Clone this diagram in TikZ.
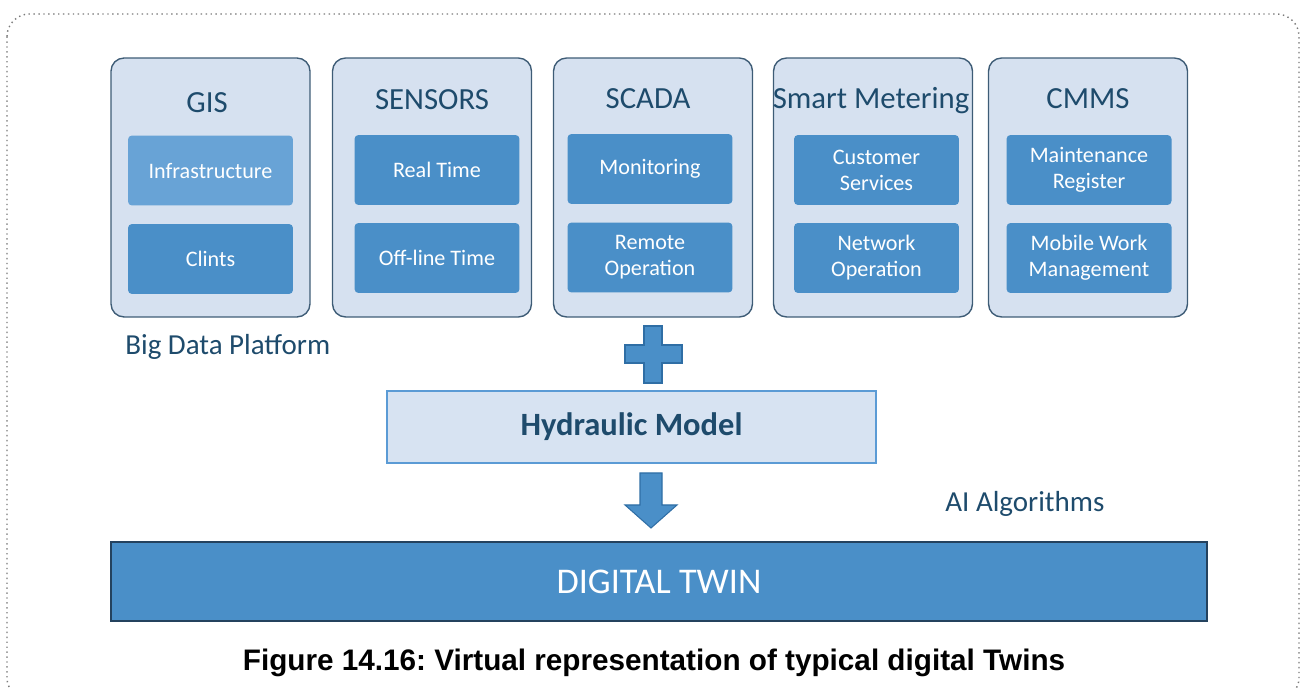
\documentclass[tikz,border=0pt]{standalone}
\usepackage{fontspec}
\setmainfont{Carlito}
\newfontfamily\capfont{Liberation Sans}
\frenchspacing
\definecolor{panelfill}{HTML}{D6E1F0}
\definecolor{panelline}{HTML}{3E5C76}
\definecolor{itemfill}{HTML}{4A8FC8}
\definecolor{itemlight}{HTML}{68A3D6}
\definecolor{headtext}{HTML}{1E4B6C}
\definecolor{hydfill}{HTML}{D7E3F2}
\definecolor{hydline}{HTML}{5B9BD5}
\definecolor{twinline}{HTML}{24425E}
\definecolor{blockline}{HTML}{2F6EA5}
\definecolor{framegray}{HTML}{7A7A7A}

\begin{document}
\begin{tikzpicture}[
		x=0.02cm, y=-0.02cm,
		panel/.style={rectangle, rounded corners=0.26cm, draw=panelline, line width=0.8pt, fill=panelfill, minimum width=3.98cm, minimum height=5.18cm},
		head/.style={anchor=base, text=headtext, inner sep=0pt, font=\fontsize{17.5}{20}\selectfont},
		item/.style={rectangle, rounded corners=0.08cm, fill=itemfill, text=white, minimum width=3.3cm, minimum height=1.4cm, align=center, font=\fontsize{12.6}{14.7}\selectfont},
		note/.style={anchor=base west, inner sep=0pt, text=headtext, font=\fontsize{16.5}{20}\selectfont},
		block/.style={fill=itemfill, draw=blockline, line width=0.6pt}
	]
  \useasboundingbox (0,0) rectangle (1301,688);
  \draw [framegray, dotted, line width=0.8pt, rounded corners=0.45cm] (7,14) rectangle (1299,700);

  \node (gis) [panel] at (210.5,187.5) {};
  \node (gis_title) [head] at (207,113) {GIS};
  \node (gis_infra) [item, fill=itemlight] at (210.5,170.5) {Infrastructure};
  \node (gis_clints) [item] at (210.5,259) {Clints};

  \node (sensors) [panel] at (432,187.5) {};
  \node (sensors_title) [head] at (432,110) {SENSORS};
  \node (sensors_real) [item] at (437,170) {Real Time};
  \node (sensors_off) [item] at (437,258) {Off-line Time};

  \node (scada) [panel] at (653,187.5) {};
  \node (scada_title) [head] at (648,109) {SCADA};
  \node (scada_mon) [item] at (650,169) {Monitoring};
  \node (scada_rem) [item] at (650,257.5) {Remote\\Operation};

  \node (meter) [panel] at (873,187.5) {};
  \node (meter_title) [head] at (871,109) {Smart Metering};
  \node (meter_cust) [item] at (876.5,170) {Customer\\Services};
  \node (meter_net) [item] at (876.5,258) {Network\\Operation};

  \node (cmms) [panel] at (1088,187.5) {};
  \node (cmms_title) [head] at (1088,109) {CMMS};
  \node (cmms_reg) [item] at (1089,170) {Maintenance\\Register};
  \node (cmms_mob) [item] at (1089,258) {Mobile Work\\Management};

  \node (bigdata) [note] at (125,355) {Big Data Platform};
  \node (ai) [note] at (945,512) {AI Algorithms};

  \node (hyd) [rectangle, draw=hydline, fill=hydfill, line width=1.2pt, minimum width=9.78cm, minimum height=1.44cm, text=headtext, font=\bfseries\fontsize{18.5}{20}\selectfont] at (631.5,427) {Hydraulic Model};
  \node (twin) [rectangle, draw=twinline, fill=itemfill, line width=0.8pt, minimum width=21.92cm, minimum height=1.58cm, text=white, font=\fontsize{20.6}{24}\selectfont] at (659,581.5) {DIGITAL TWIN};

  \draw [block] (644,326) -- (662,326) -- (662,345) -- (682,345) -- (682,363) -- (662,363) -- (662,383) -- (644,383) -- (644,363) -- (625,363) -- (625,345) -- (644,345) -- cycle;
  \draw [block] (640,473) -- (662,473) -- (662,505) -- (677,505) -- (651,528) -- (625,505) -- (640,505) -- cycle;

  \node (caption) [anchor=base, inner sep=0pt, font=\capfont\bfseries\fontsize{16.9}{20}\selectfont] at (654,670) {Figure 14.16: Virtual representation of typical digital Twins};
\end{tikzpicture}
\end{document}
